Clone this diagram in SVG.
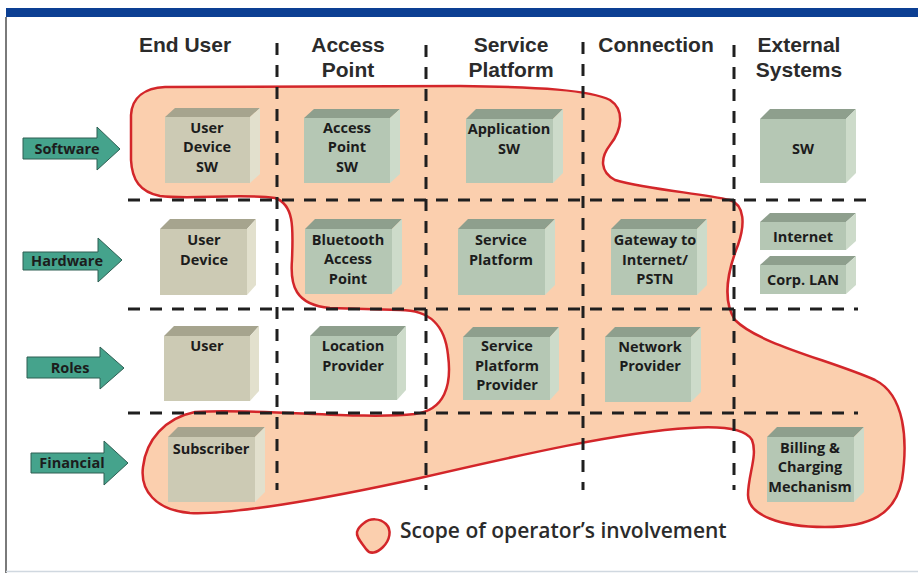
<svg xmlns="http://www.w3.org/2000/svg" width="918" height="573" viewBox="0 0 918 573">
<style>
  .hdr { font-family: "Liberation Sans", Arial, sans-serif; font-weight: 700; font-size: 21px; fill: #2b2b2b; text-anchor: middle; }
  .lbl { font-family: "Open Sans", "Liberation Sans", sans-serif; font-weight: 700; font-size: 14.5px; fill: #1c1c1c; text-anchor: middle; }
  .arw { fill: #45a38c; stroke: #2e5f53; stroke-width: 1; }
  .bf { fill: #cccab4; } .bt { fill: #a6a48e; } .bs { fill: #e2e0cd; }
  .gf { fill: #b5c7b4; } .gt { fill: #8e9f8d; } .gs { fill: #cddbca; }
  .dash { stroke: #1f1f1f; stroke-width: 3; fill: none; stroke-dasharray: 12 10; }
  .scope { fill: #fbcfae; stroke: #d3262a; stroke-width: 2.5; }
  .leg { font-family: "Open Sans", "Liberation Sans", sans-serif; font-weight: 600; font-size: 21px; fill: #2b2b2b; }
</style>

<!-- frame -->
<rect x="6" y="8" width="912" height="9" fill="#0c3f93"/>
<line x1="6" y1="17" x2="6" y2="573" stroke="#7a7a7a" stroke-width="2"/>
<line x1="6" y1="571.5" x2="918" y2="571.5" stroke="#d0d8e0" stroke-width="1.5"/>

<!-- scope of operator's involvement -->
<path id="scope" class="scope" d="M 165,87 L 460,86 C 540,87 590,90 610,100 C 625,110 622,130 610,145 C 600,158 600,172 615,180 C 650,190 700,193 730,200 C 745,205 745,225 738,245 C 728,270 722,300 735,320 C 760,345 830,360 875,380 C 905,395 908,440 902,480 C 895,515 870,527 825,527 C 780,527 748,515 748,495 C 748,475 758,455 752,440 C 745,428 720,426 690,428 C 620,432 520,455 420,478 C 320,500 230,515 190,513 C 155,510 140,490 143,467 C 146,440 165,418 195,412 C 260,408 360,420 415,414 C 445,410 452,385 448,355 C 445,325 430,310 400,310 L 330,308 C 295,305 290,285 292,260 C 293,230 295,205 275,198 C 240,193 190,200 160,196 C 140,192 132,180 131,160 L 131,115 C 132,97 145,88 165,87 Z"/>

<!-- grid -->
<g id="connectors">
  <line class="dash" x1="277" y1="43" x2="277" y2="490"/>
  <line class="dash" x1="426" y1="45" x2="426" y2="490"/>
  <line class="dash" x1="583" y1="42" x2="583" y2="490"/>
  <line class="dash" x1="734" y1="45" x2="734" y2="490"/>
  <line class="dash" x1="128" y1="200" x2="872" y2="200"/>
  <line class="dash" x1="128" y1="309" x2="858" y2="309"/>
  <line class="dash" x1="128" y1="413" x2="858" y2="413"/>
</g>

<!-- column headers -->
<g id="headers">
  <text class="hdr" x="185" y="52">End User</text>
  <text class="hdr" x="348" y="52">Access</text>
  <text class="hdr" x="348" y="77">Point</text>
  <text class="hdr" x="511" y="52">Service</text>
  <text class="hdr" x="511" y="77">Platform</text>
  <text class="hdr" x="656" y="52">Connection</text>
  <text class="hdr" x="799" y="52">External</text>
  <text class="hdr" x="799" y="77">Systems</text>
</g>

<!-- row labels -->
<g id="row-software">
  <polygon class="arw" points="23,138 97,138 97,127 120,149 97,170 97,159 23,159"/>
  <text class="lbl" x="67" y="154">Software</text>
</g>
<g id="row-hardware">
  <polygon class="arw" points="23,252 98,252 98,238 122,260 98,282 98,270 23,270"/>
  <text class="lbl" x="67" y="266">Hardware</text>
</g>
<g id="row-roles">
  <polygon class="arw" points="27,357 100,357 100,347 124,368 100,389 100,378 27,378"/>
  <text class="lbl" x="70" y="373">Roles</text>
</g>
<g id="row-financial">
  <polygon class="arw" points="31,453 104,453 104,441 128,463 104,485 104,473 31,473"/>
  <text class="lbl" x="72" y="468">Financial</text>
</g>

<!-- boxes -->
<g id="user-device-sw">
  <polygon class="bt" points="165,117 175,108 260,108 250,117"/>
  <polygon class="bs" points="250,117 260,108 260,174 250,183"/>
  <rect class="bf" x="165" y="117" width="85" height="66"/>
  <text class="lbl" x="207" y="133">User</text>
  <text class="lbl" x="207" y="152">Device</text>
  <text class="lbl" x="207" y="172">SW</text>
</g>
<g id="access-point-sw">
  <polygon class="gt" points="304,118 314,109 400,109 390,118"/>
  <polygon class="gs" points="390,118 400,109 400,174 390,183"/>
  <rect class="gf" x="304" y="118" width="86" height="65"/>
  <text class="lbl" x="347" y="133">Access</text>
  <text class="lbl" x="347" y="152">Point</text>
  <text class="lbl" x="347" y="172">SW</text>
</g>
<g id="application-sw">
  <polygon class="gt" points="466,119 476,109 563,109 553,119"/>
  <polygon class="gs" points="553,119 563,109 563,173 553,183"/>
  <rect class="gf" x="466" y="119" width="87" height="64"/>
  <text class="lbl" x="509" y="134">Application</text>
  <text class="lbl" x="509" y="154">SW</text>
</g>
<g id="ext-sw">
  <polygon class="gt" points="760,119 770,109 856,109 846,119"/>
  <polygon class="gs" points="846,119 856,109 856,173 846,183"/>
  <rect class="gf" x="760" y="119" width="86" height="64"/>
  <text class="lbl" x="803" y="154">SW</text>
</g>

<g id="user-device">
  <polygon class="bt" points="160,229 170,219 256,219 247,229"/>
  <polygon class="bs" points="247,229 256,219 256,285 247,295"/>
  <rect class="bf" x="160" y="229" width="87" height="66"/>
  <text class="lbl" x="204" y="245">User</text>
  <text class="lbl" x="204" y="265">Device</text>
</g>
<g id="bluetooth-access-point">
  <polygon class="gt" points="305,229 315,219 402,219 392,229"/>
  <polygon class="gs" points="392,229 402,219 402,284 392,294"/>
  <rect class="gf" x="305" y="229" width="87" height="65"/>
  <text class="lbl" x="348" y="245">Bluetooth</text>
  <text class="lbl" x="348" y="264">Access</text>
  <text class="lbl" x="348" y="284">Point</text>
</g>
<g id="service-platform">
  <polygon class="gt" points="458,229 468,219 555,219 545,229"/>
  <polygon class="gs" points="545,229 555,219 555,285 545,295"/>
  <rect class="gf" x="458" y="229" width="87" height="66"/>
  <text class="lbl" x="501" y="245">Service</text>
  <text class="lbl" x="501" y="265">Platform</text>
</g>
<g id="gateway">
  <polygon class="gt" points="611,229 621,219 707,219 697,229"/>
  <polygon class="gs" points="697,229 707,219 707,285 697,295"/>
  <rect class="gf" x="611" y="229" width="86" height="66"/>
  <text class="lbl" x="655" y="245">Gateway to</text>
  <text class="lbl" x="655" y="265">Internet/</text>
  <text class="lbl" x="655" y="284">PSTN</text>
</g>
<g id="internet">
  <polygon class="gt" points="760,222 770,213 856,213 846,222"/>
  <polygon class="gs" points="846,222 856,213 856,241 846,250"/>
  <rect class="gf" x="760" y="222" width="86" height="28"/>
  <text class="lbl" x="803" y="242">Internet</text>
</g>
<g id="corp-lan">
  <polygon class="gt" points="760,265 770,256 856,256 846,265"/>
  <polygon class="gs" points="846,265 856,256 856,285 846,294"/>
  <rect class="gf" x="760" y="265" width="86" height="29"/>
  <text class="lbl" x="803" y="285">Corp. LAN</text>
</g>

<g id="user">
  <polygon class="bt" points="164,336 174,326 259,326 250,336"/>
  <polygon class="bs" points="250,336 259,326 259,391 250,401"/>
  <rect class="bf" x="164" y="336" width="86" height="65"/>
  <text class="lbl" x="207" y="351">User</text>
</g>
<g id="location-provider">
  <polygon class="gt" points="310,336 320,326 406,326 397,336"/>
  <polygon class="gs" points="397,336 406,326 406,390 397,400"/>
  <rect class="gf" x="310" y="336" width="87" height="64"/>
  <text class="lbl" x="353" y="351">Location</text>
  <text class="lbl" x="353" y="371">Provider</text>
</g>
<g id="service-platform-provider">
  <polygon class="gt" points="463,337 473,327 559,327 550,337"/>
  <polygon class="gs" points="550,337 559,327 559,390 550,400"/>
  <rect class="gf" x="463" y="337" width="87" height="63"/>
  <text class="lbl" x="507" y="351">Service</text>
  <text class="lbl" x="507" y="371">Platform</text>
  <text class="lbl" x="507" y="390">Provider</text>
</g>
<g id="network-provider">
  <polygon class="gt" points="605,337 615,327 701,327 691,337"/>
  <polygon class="gs" points="691,337 701,327 701,392 691,402"/>
  <rect class="gf" x="605" y="337" width="86" height="65"/>
  <text class="lbl" x="650" y="352">Network</text>
  <text class="lbl" x="650" y="371">Provider</text>
</g>

<g id="subscriber">
  <polygon class="bt" points="168,437 178,427 265,427 255,437"/>
  <polygon class="bs" points="255,437 265,427 265,492 255,502"/>
  <rect class="bf" x="168" y="437" width="87" height="65"/>
  <text class="lbl" x="211" y="454">Subscriber</text>
</g>
<g id="billing">
  <polygon class="gt" points="767,437 777,427 864,427 854,437"/>
  <polygon class="gs" points="854,437 864,427 864,492 854,502"/>
  <rect class="gf" x="767" y="437" width="87" height="65"/>
  <text class="lbl" x="810" y="453">Billing &amp;</text>
  <text class="lbl" x="810" y="472">Charging</text>
  <text class="lbl" x="810" y="492">Mechanism</text>
</g>

<!-- legend -->
<g id="legend">
  <path class="scope" d="M 364,523 C 370,518 380,518 386,524 C 392,530 390,540 383,547 C 377,553 370,555 366,549 C 361,542 356,537 357,532 C 358,528 360,526 364,523 Z"/>
  <text class="leg" x="400" y="538">Scope of operator’s involvement</text>
</g>
</svg>
